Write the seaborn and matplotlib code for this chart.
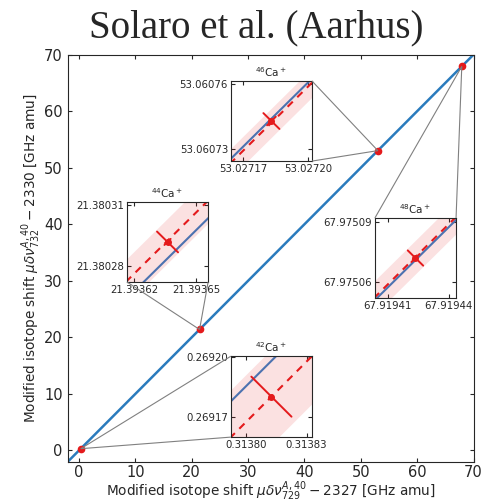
import numpy as np
import matplotlib.pyplot as plt
import seaborn as sns
from matplotlib.ticker import FormatStrFormatter
from mpl_toolkits.axes_grid1.inset_locator import mark_inset

sns.set_style("ticks", {"xtick.direction": "in", "ytick.direction": "in",
                        "axes.edgecolor": ".15"})

# isotope data (modified isotope shifts, GHz amu)
isotopes = ['42', '44', '46', '48']
x_vals = [0.3138127, 21.3936362, 53.0271831, 67.9194237]
y_vals = [0.2691803, 21.3802919, 53.0607429, 67.9750721]
# blue line and red fit line evaluated at each isotope x
blue_y = [0.2691980, 21.3802838, 53.0607440, 67.9750711]
fit_y = [0.2691803, 21.3802925, 53.0607421, 67.9750726]
band_hw = [2.35e-5, 1.1e-5, 6.8e-6, 8.4e-6]
err_long = [9.9e-6, 5.1e-6, 3.7e-6, 3.8e-6]
err_short = [0.4e-6, 1.5e-6, 2.0e-6, 2.0e-6]
half_range = [2.0e-5, 1.97e-5, 1.87e-5, 2.0e-5]
xtick_vals = [[0.31380, 0.31383], [21.39362, 21.39365], [53.02717, 53.02720], [67.91941, 67.91944]]
ytick_vals = [[0.26917, 0.26920], [21.38028, 21.38031], [53.06073, 53.06076], [67.97506, 67.97509]]

# layout of insets (axes fraction) and connector corners
inset_box = [[0.402, 0.060, 0.2, 0.199], [0.146, 0.4416, 0.2, 0.197],
             [0.402, 0.739, 0.2, 0.197], [0.757, 0.402, 0.2, 0.197]]
inset_loc = [(2, 3), (3, 4), (1, 4), (1, 2)]

red = '#e41a1c'
blue_main = '#2a7bbd'
blue_in = '#4c72b0'

blue_fit = np.polyfit(x_vals, blue_y, 1)
red_fit = np.polyfit(x_vals, fit_y, 1)

fig = plt.figure(figsize=(4.85, 5.03), dpi=100)
ax = fig.add_axes([0.1396, 0.0825, 0.8367, 0.8082])

xx = np.linspace(-3, 71, 10)
sns.lineplot(x=xx, y=np.polyval(blue_fit, xx), color=blue_main, lw=1.8, ax=ax, zorder=2)
ax.plot(x_vals, y_vals, 'o', color=red, ms=4.5, zorder=4)

ax.set_xlim(-2, 70)
ax.set_ylim(-2, 70)
ax.set_xticks(range(0, 71, 10))
ax.set_yticks(range(0, 71, 10))
ax.tick_params(top=True, right=True, labelsize=10.5, length=3, width=0.8)
ax.tick_params(axis='x', pad=2.5)
ax.set_xlabel(r'Modified isotope shift $\mu\delta\nu^{A,40}_{729} - 2327$ [GHz amu]',
              fontsize=9.8, labelpad=0)
ax.set_ylabel(r'Modified isotope shift $\mu\delta\nu^{A,40}_{732} - 2330$ [GHz amu]',
              fontsize=9.8, labelpad=1)
fig.suptitle('Solaro et al. (Aarhus)', family='Liberation Serif', fontsize=28,
             x=0.528, y=0.982)

for i, iso in enumerate(isotopes):
    axin = ax.inset_axes(inset_box[i])
    x0, y0, h = x_vals[i], y_vals[i], half_range[i]
    xs = np.linspace(x0 - 1.5 * h, x0 + 1.5 * h, 5)
    fy = fit_y[i] + red_fit[0] * (xs - x0)
    by = blue_y[i] + blue_fit[0] * (xs - x0)
    axin.fill_between(xs, fy - band_hw[i], fy + band_hw[i], color=red, alpha=0.13, lw=0)
    axin.plot(xs, by, color=blue_in, lw=1.5)
    axin.plot(xs, fy, '--', color=red, lw=1.5, dashes=(3.5, 3))
    el, es = err_long[i], err_short[i]
    axin.plot([x0 - el, x0 + el], [y0 + el, y0 - el], color=red, lw=1.4)
    axin.plot([x0 - es, x0 + es], [y0 - es, y0 + es], color=red, lw=1.4)
    axin.plot([x0], [y0], 'o', color=red, ms=4)
    axin.set_xlim(x0 - h, x0 + h)
    axin.set_ylim(y0 - h, y0 + h)
    axin.set_xticks(xtick_vals[i])
    axin.set_yticks(ytick_vals[i])
    axin.xaxis.set_major_formatter(FormatStrFormatter('%.5f'))
    axin.yaxis.set_major_formatter(FormatStrFormatter('%.5f'))
    axin.tick_params(top=True, right=True, labelsize=7.3, length=3, width=0.8, pad=2)
    axin.set_title(r'$^{%s}$Ca$^+$' % iso, fontsize=7.5, pad=3)
    mark_inset(ax, axin, loc1=inset_loc[i][0], loc2=inset_loc[i][1],
               fc='none', ec='0.5', lw=0.8, zorder=3)

fig.savefig('out.png', dpi=100)
